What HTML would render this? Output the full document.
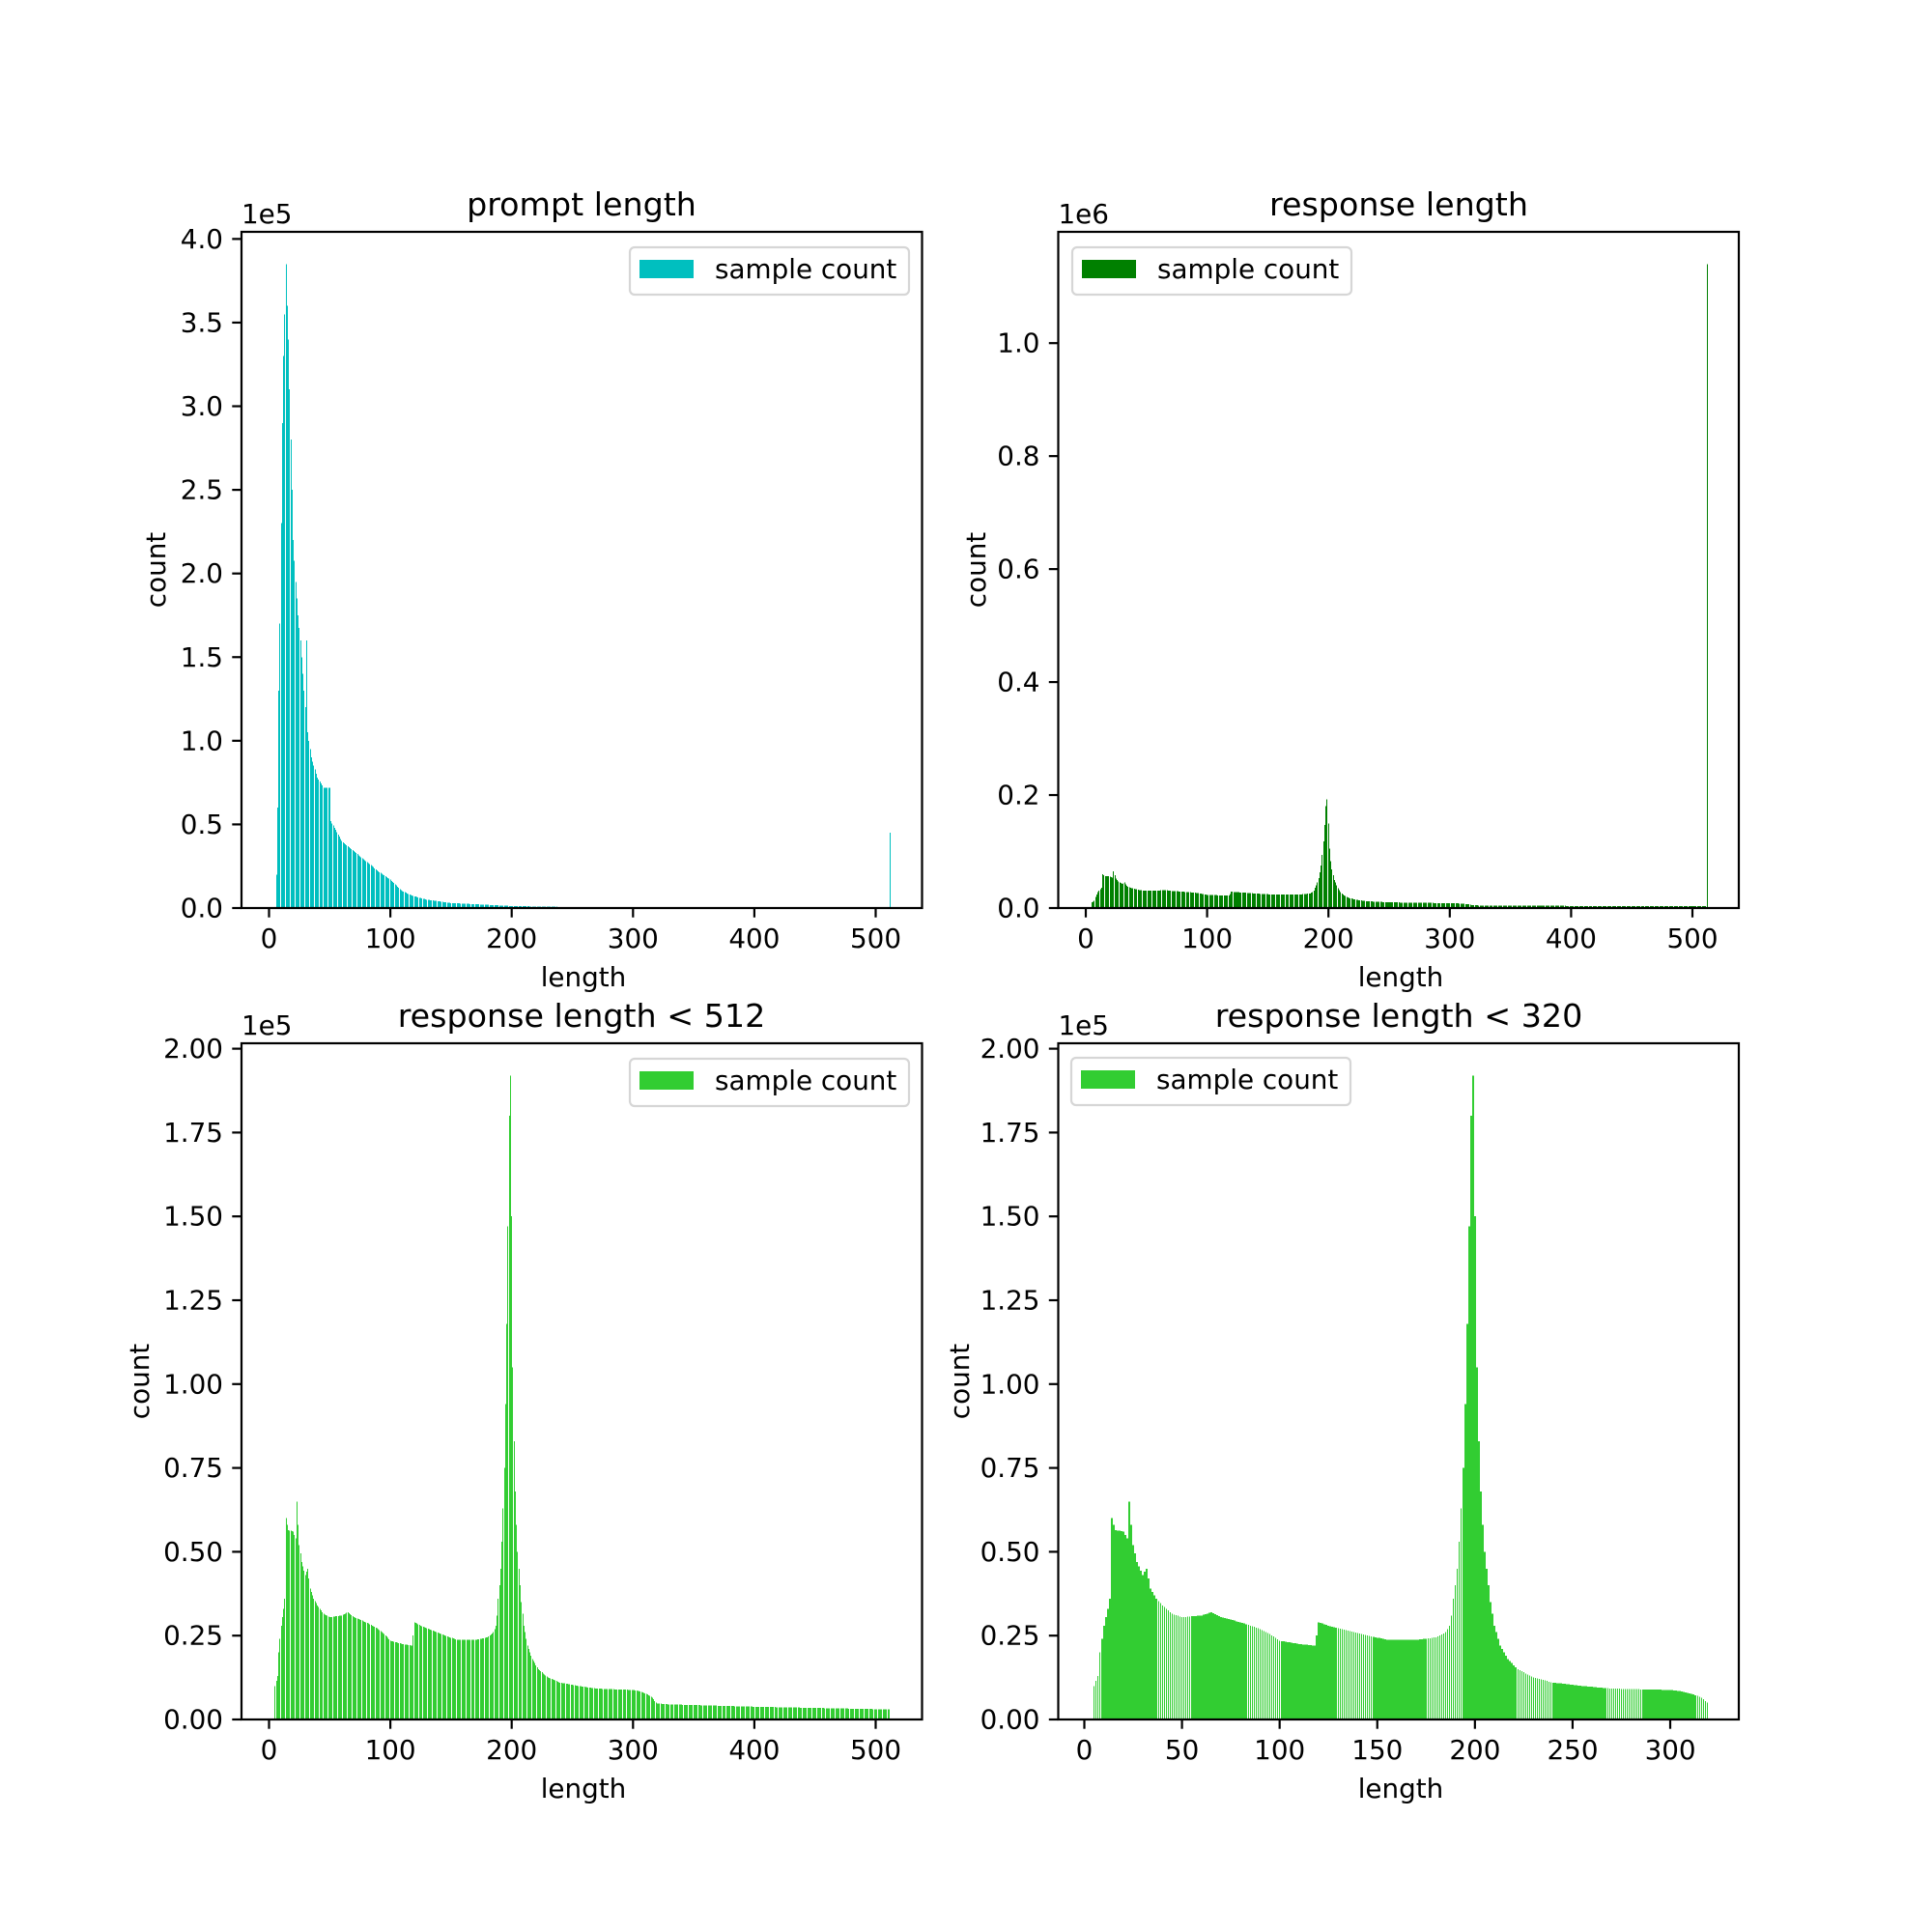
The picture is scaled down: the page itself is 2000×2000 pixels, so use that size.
<!DOCTYPE html>
<html><head><meta charset="utf-8"><style>
html,body{margin:0;padding:0;background:#fff}
svg{display:block}
text{font-family:"DejaVu Sans","Liberation Sans",sans-serif;fill:#000}
.t{font-size:27.8px}
.ti{font-size:33.3px}
</style></head><body>
<svg id="s" width="2000" height="2000" viewBox="0 0 2000 2000" xmlns="http://www.w3.org/2000/svg">
<rect width="2000" height="2000" fill="#fff"/>
<g id="bars" shape-rendering="crispEdges"></g>
<g id="ticks" stroke="#000" stroke-width="2.2"></g>
<g fill="none" stroke="#000" stroke-width="2.2">
<rect x="250" y="240" width="704.5" height="700"/>
<rect x="1095.5" y="240" width="704.5" height="700"/>
<rect x="250" y="1080" width="704.5" height="700"/>
<rect x="1095.5" y="1080" width="704.5" height="700"/>
</g>
<text class="ti" x="602" y="223" text-anchor="middle">prompt length</text>
<text class="ti" x="1448" y="223" text-anchor="middle">response length</text>
<text class="ti" x="602" y="1063" text-anchor="middle">response length &lt; 512</text>
<text class="ti" x="1448" y="1063" text-anchor="middle">response length &lt; 320</text>
<text class="t" x="250" y="231">1e5</text>
<text class="t" x="1095.5" y="231">1e6</text>
<text class="t" x="250" y="1071">1e5</text>
<text class="t" x="1095.5" y="1071">1e5</text>
<text class="t" x="604" y="1021" text-anchor="middle">length</text>
<text class="t" x="1450" y="1021" text-anchor="middle">length</text>
<text class="t" x="604" y="1861" text-anchor="middle">length</text>
<text class="t" x="1450" y="1861" text-anchor="middle">length</text>
<text class="t" transform="translate(171,590) rotate(-90)" text-anchor="middle">count</text>
<text class="t" transform="translate(1020,590) rotate(-90)" text-anchor="middle">count</text>
<text class="t" transform="translate(154,1430) rotate(-90)" text-anchor="middle">count</text>
<text class="t" transform="translate(1003,1430) rotate(-90)" text-anchor="middle">count</text>
<g class="t" text-anchor="end" dominant-baseline="central">
<text x="231" y="940">0.0</text><text x="231" y="853.4">0.5</text><text x="231" y="766.8">1.0</text><text x="231" y="680.3">1.5</text><text x="231" y="593.7">2.0</text><text x="231" y="507.1">2.5</text><text x="231" y="420.5">3.0</text><text x="231" y="333.9">3.5</text><text x="231" y="247.4">4.0</text>
<text x="1076.5" y="940">0.0</text><text x="1076.5" y="823">0.2</text><text x="1076.5" y="706.1">0.4</text><text x="1076.5" y="589.1">0.6</text><text x="1076.5" y="472.2">0.8</text><text x="1076.5" y="355.2">1.0</text>
<text x="231" y="1780">0.00</text><text x="231" y="1693.2">0.25</text><text x="231" y="1606.4">0.50</text><text x="231" y="1519.6">0.75</text><text x="231" y="1432.8">1.00</text><text x="231" y="1346">1.25</text><text x="231" y="1259.2">1.50</text><text x="231" y="1172.4">1.75</text><text x="231" y="1085.6">2.00</text>
<text x="1076.5" y="1780">0.00</text><text x="1076.5" y="1693.2">0.25</text><text x="1076.5" y="1606.4">0.50</text><text x="1076.5" y="1519.6">0.75</text><text x="1076.5" y="1432.8">1.00</text><text x="1076.5" y="1346">1.25</text><text x="1076.5" y="1259.2">1.50</text><text x="1076.5" y="1172.4">1.75</text><text x="1076.5" y="1085.6">2.00</text>
</g>
<g class="t" text-anchor="middle">
<text x="278.5" y="981">0</text><text x="404.1" y="981">100</text><text x="529.7" y="981">200</text><text x="655.3" y="981">300</text><text x="780.9" y="981">400</text><text x="906.5" y="981">500</text>
<text x="1124" y="981">0</text><text x="1249.6" y="981">100</text><text x="1375.2" y="981">200</text><text x="1500.8" y="981">300</text><text x="1626.4" y="981">400</text><text x="1752" y="981">500</text>
<text x="278.5" y="1821">0</text><text x="404.1" y="1821">100</text><text x="529.7" y="1821">200</text><text x="655.3" y="1821">300</text><text x="780.9" y="1821">400</text><text x="906.5" y="1821">500</text>
<text x="1122.5" y="1821">0</text><text x="1223.6" y="1821">50</text><text x="1324.7" y="1821">100</text><text x="1425.8" y="1821">150</text><text x="1526.9" y="1821">200</text><text x="1628" y="1821">250</text><text x="1729.1" y="1821">300</text>
</g>
<g>
<rect x="652" y="256" width="289" height="49" rx="5" fill="#fff" fill-opacity="0.8" stroke="#d6d6d6" stroke-width="2.2"/>
<rect x="662" y="269" width="56" height="19" fill="#00bfbf"/>
<text class="t" x="740" y="288">sample count</text>
<rect x="1110" y="256" width="289" height="49" rx="5" fill="#fff" fill-opacity="0.8" stroke="#d6d6d6" stroke-width="2.2"/>
<rect x="1120" y="269" width="56" height="19" fill="#008000"/>
<text class="t" x="1198" y="288">sample count</text>
<rect x="652" y="1096" width="289" height="49" rx="5" fill="#fff" fill-opacity="0.8" stroke="#d6d6d6" stroke-width="2.2"/>
<rect x="662" y="1109" width="56" height="19" fill="#32cd32"/>
<text class="t" x="740" y="1128">sample count</text>
<rect x="1109" y="1095" width="289" height="49" rx="5" fill="#fff" fill-opacity="0.8" stroke="#d6d6d6" stroke-width="2.2"/>
<rect x="1119" y="1108" width="56" height="19" fill="#32cd32"/>
<text class="t" x="1197" y="1127">sample count</text>
</g>
</svg>
<script>
(function(){
var NS="http://www.w3.org/2000/svg";
function interp(a,L){
 if(L<a[0][0]||L>a[a.length-1][0])return 0;
 for(var i=0;i<a.length-1;i++){if(L>=a[i][0]&&L<=a[i+1][0]){var t=(L-a[i][0])/((a[i+1][0]-a[i][0])||1);return a[i][1]+t*(a[i+1][1]-a[i][1]);}}
 return 0;}
var P=[[5,0],[6,0.2],[7,0.6],[8,1.3],[9,1.7],[10,2.3],[11,2.9],[12,3.3],[13,3.55],[14,3.85],[15,3.6],[16,3.4],[17,3.1],[18,2.8],[19,2.5],[20,2.2],[22,1.95],[24,1.75],[26,1.6],[28,1.4],[30,1.2],[31,1.6],[32,1.05],[35,0.9],[40,0.78],[45,0.72],[50,0.72],[51,0.52],[60,0.4],[70,0.34],[80,0.28],[90,0.22],[100,0.17],[110,0.1],[120,0.07],[130,0.05],[150,0.03],[200,0.012],[270,0.003],[271,0]];
var R=[[5,0.1],[7,0.13],[8,0.2],[10,0.28],[12,0.33],[13,0.36],[14,0.6],[15,0.58],[16,0.565],[20,0.56],[21,0.55],[22,0.54],[23,0.65],[24,0.58],[25,0.52],[27,0.47],[30,0.43],[32,0.45],[34,0.39],[37,0.36],[40,0.34],[45,0.315],[50,0.305],[60,0.31],[65,0.32],[70,0.305],[80,0.29],[90,0.27],[95,0.255],[100,0.235],[110,0.225],[118,0.22],[119,0.25],[120,0.29],[125,0.28],[135,0.265],[145,0.25],[155,0.238],[170,0.237],[180,0.245],[185,0.26],[187,0.28],[188,0.31],[189,0.36],[190,0.4],[191,0.45],[192,0.53],[193,0.63],[194,0.75],[195,0.94],[196,1.18],[197,1.47],[198,1.8],[199,1.92],[200,1.5],[201,1.05],[202,0.83],[203,0.68],[204,0.58],[205,0.5],[206,0.45],[207,0.4],[208,0.35],[210,0.28],[213,0.22],[217,0.18],[222,0.15],[230,0.125],[240,0.11],[255,0.1],[270,0.092],[300,0.088],[305,0.085],[312,0.075],[316,0.065],[319,0.05],[320,0.048],[330,0.045],[400,0.038],[511,0.03]];
var g=document.getElementById("bars"),tk=document.getElementById("ticks");
function rect(x,y,w,h,c){var r=document.createElementNS(NS,"rect");r.setAttribute("x",x);r.setAttribute("y",y);r.setAttribute("width",w);r.setAttribute("height",h);r.setAttribute("fill",c);g.appendChild(r);}
function line(x1,y1,x2,y2){var l=document.createElementNS(NS,"line");l.setAttribute("x1",x1);l.setAttribute("y1",y1);l.setAttribute("x2",x2);l.setAttribute("y2",y2);tk.appendChild(l);}
function panel(left,top,x0,sx,ppu,fn,maxL,col,extra){
 var bottom=top+700;
 function bar(L,v){var h=v*ppu;var xa=Math.round(left+x0+(L-0.4)*sx),xb=Math.round(left+x0+(L+0.4)*sx);if(xb<=xa)xb=xa+1;rect(xa,bottom-h,xb-xa,h,col);}
 for(var L=0;L<=maxL;L++){var v=fn(L);if(v<=0)continue;bar(L,v);}
 if(extra)bar(extra[0],extra[1]);
}
panel(250,240,28.5,1.256,173.16,function(L){return interp(P,L);},511,"#00bfbf",[512,0.45]);
panel(1095.5,240,28.5,1.256,58.48,function(L){return interp(R,L);},511,"#008000",[512,11.4]);
panel(250,1080,28.5,1.256,347.2,function(L){return interp(R,L);},511,"#32cd32");
panel(1095.5,1080,27,2.0217,347.2,function(L){return interp(R,L);},319,"#32cd32");
[0,100,200,300,400,500].forEach(function(v){var x=278.5+v*1.256;line(x,940,x,949.7);line(x+845.5,940,x+845.5,949.7);line(x,1780,x,1789.7);});
[0,50,100,150,200,250,300].forEach(function(v){var x=1122.5+v*2.0217;line(x,1780,x,1789.7);});
for(var i=0;i<=8;i++){var y=940-i*0.5*173.16;line(240.3,y,250,y);}
for(var i=0;i<=5;i++){var y=940-i*2*58.48;line(1085.8,y,1095.5,y);}
for(var i=0;i<=8;i++){var y=1780-i*0.25*347.2;line(240.3,y,250,y);line(1085.8,y,1095.5,y);}
})();
</script>
</body></html>
